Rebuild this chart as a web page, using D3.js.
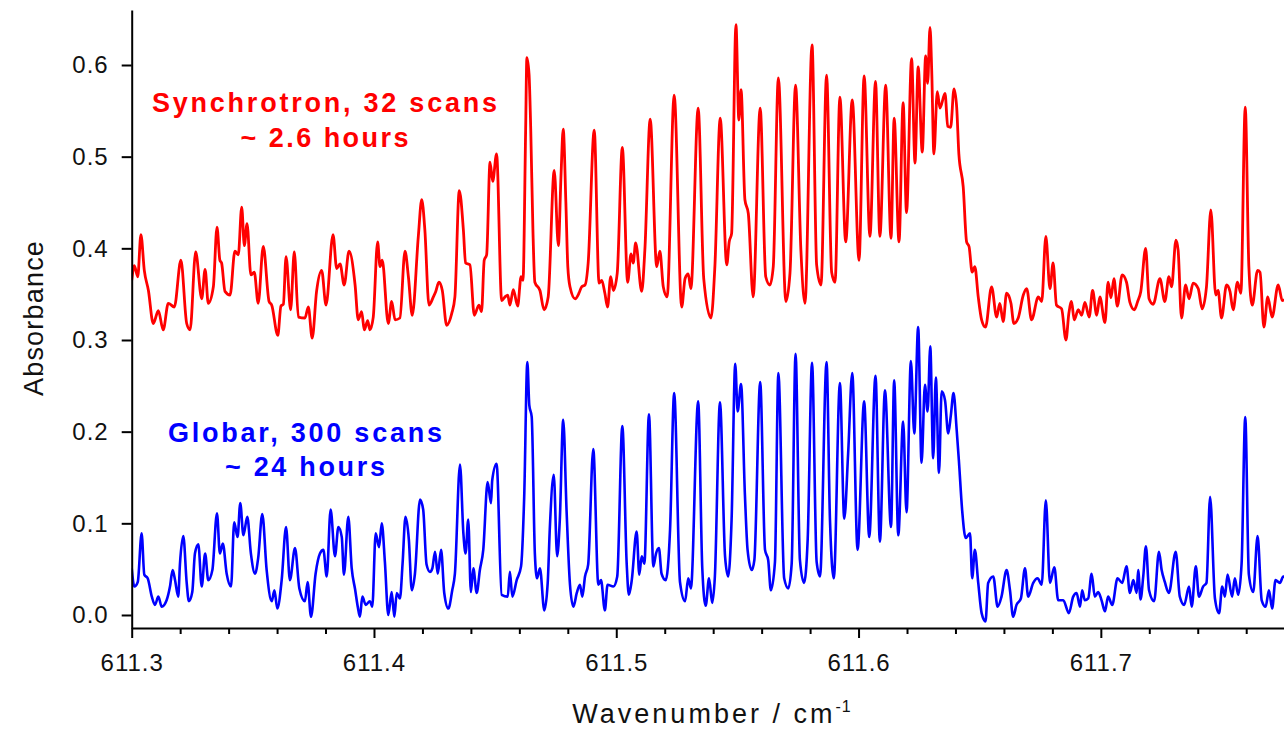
<!DOCTYPE html>
<html>
<head>
<meta charset="utf-8">
<script src="https://cdn.jsdelivr.net/npm/d3@7"></script>
<style>
  body { margin: 0; background: #fff; }
  svg { display: block; font-family: "Liberation Sans", Arial, sans-serif; }
</style>
</head>
<body>
<svg id="chart" width="1284" height="731"></svg>
<script>
// wavenumber (cm-1) and absorbance
var synchWn = [611.3000,611.3011,611.3025,611.3038,611.3052,611.3069,611.3089,611.3110,611.3130,611.3151,611.3176,611.3203,611.3227,611.3241,611.3264,611.3289,611.3303,611.3316,611.3337,611.3352,611.3364,611.3371,611.3385,611.3406,611.3426,611.3440,611.3454,611.3465,611.3476,611.3492,611.3506,611.3522,611.3543,611.3567,611.3578,611.3603,611.3616,611.3626,611.3637,611.3656,611.3671,611.3688,611.3715,611.3729,611.3745,611.3763,611.3784,611.3802,611.3831,611.3846,611.3860,611.3877,611.3897,611.3922,611.3935,611.3949,611.3960,611.3974,611.3983,611.3997,611.4015,611.4025,611.4034,611.4059,611.4073,611.4087,611.4107,611.4128,611.4142,611.4158,611.4183,611.4197,611.4210,611.4227,611.4245,611.4255,611.4268,611.4282,611.4300,611.4321,611.4334,611.4352,611.4369,611.4378,611.4396,611.4414,611.4433,611.4444,611.4455,611.4465,611.4479,611.4490,611.4506,611.4527,611.4541,611.4552,611.4561,611.4575,611.4593,611.4607,611.4615,611.4626,611.4631,611.4640,611.4647,611.4656,611.4664,611.4685,611.4702,611.4719,611.4744,611.4761,611.4772,611.4781,611.4792,611.4800,611.4809,611.4830,611.4846,611.4857,611.4871,611.4884,611.4909,611.4929,611.4940,611.4953,611.4964,611.4977,611.4988,611.5004,611.5025,611.5047,611.5061,611.5070,611.5080,611.5105,611.5118,611.5140,611.5167,611.5180,611.5194,611.5210,611.5239,611.5270,611.5284,611.5297,611.5308,611.5338,611.5361,611.5391,611.5407,611.5429,611.5456,611.5466,611.5476,611.5494,611.5506,611.5515,611.5531,611.5545,611.5565,611.5594,611.5617,611.5634,611.5648,611.5669,611.5700,611.5717,611.5740,611.5762,611.5779,611.5808,611.5827,611.5845,611.5868,611.5889,611.5903,611.5923,611.5947,611.5974,611.6002,611.6023,611.6047,611.6070,611.6088,611.6112,611.6134,611.6147,611.6167,611.6184,611.6198,611.6219,611.6233,611.6246,611.6263,611.6277,611.6285,611.6295,611.6302,611.6311,611.6325,611.6336,611.6357,611.6368,611.6380,611.6394,611.6405,611.6414,611.6432,611.6446,611.6456,611.6469,611.6480,611.6494,611.6508,611.6524,611.6549,611.6570,611.6583,611.6597,611.6611,611.6629,611.6641,611.6659,611.6680,611.6694,611.6714,611.6742,611.6756,611.6773,611.6790,611.6803,611.6817,611.6838,611.6856,611.6868,611.6879,611.6890,611.6907,611.6921,611.6934,611.6952,611.6966,611.6983,611.6996,611.7017,611.7030,611.7042,611.7054,611.7068,611.7088,611.7106,611.7120,611.7138,611.7152,611.7165,611.7185,611.7199,611.7216,611.7244,611.7264,611.7281,611.7292,611.7310,611.7319,611.7333,611.7350,611.7364,611.7381,611.7402,611.7418,611.7436,611.7454,611.7474,611.7484,611.7498,611.7519,611.7533,611.7546,611.7564,611.7578,611.7596,611.7611,611.7625,611.7647,611.7657,611.7673,611.7689,611.7707,611.7732,611.7749,611.7765];
var synchAbs = [0.365,0.381,0.369,0.415,0.376,0.354,0.318,0.332,0.311,0.340,0.336,0.387,0.318,0.311,0.396,0.345,0.377,0.340,0.358,0.423,0.387,0.384,0.353,0.349,0.397,0.393,0.445,0.403,0.427,0.371,0.374,0.340,0.402,0.342,0.338,0.305,0.337,0.339,0.391,0.333,0.396,0.325,0.324,0.336,0.302,0.353,0.376,0.338,0.415,0.378,0.383,0.360,0.397,0.360,0.322,0.331,0.311,0.321,0.311,0.325,0.407,0.380,0.387,0.318,0.342,0.322,0.324,0.397,0.369,0.327,0.413,0.453,0.420,0.338,0.347,0.353,0.363,0.354,0.316,0.329,0.347,0.463,0.420,0.384,0.382,0.327,0.338,0.331,0.387,0.393,0.494,0.473,0.503,0.343,0.347,0.349,0.338,0.355,0.337,0.369,0.365,0.530,0.608,0.590,0.530,0.420,0.363,0.354,0.333,0.347,0.485,0.403,0.480,0.530,0.450,0.380,0.358,0.345,0.351,0.358,0.360,0.384,0.529,0.362,0.365,0.351,0.336,0.369,0.354,0.373,0.510,0.363,0.394,0.384,0.406,0.353,0.398,0.541,0.380,0.397,0.358,0.347,0.567,0.336,0.367,0.372,0.356,0.553,0.367,0.324,0.380,0.542,0.382,0.407,0.416,0.644,0.540,0.573,0.453,0.438,0.347,0.553,0.369,0.360,0.380,0.586,0.342,0.373,0.578,0.398,0.340,0.622,0.382,0.360,0.589,0.374,0.363,0.565,0.407,0.562,0.387,0.588,0.413,0.582,0.413,0.578,0.411,0.542,0.407,0.559,0.439,0.607,0.493,0.598,0.505,0.610,0.580,0.641,0.594,0.503,0.571,0.553,0.569,0.533,0.532,0.574,0.554,0.503,0.467,0.407,0.402,0.374,0.380,0.347,0.322,0.314,0.358,0.325,0.340,0.320,0.351,0.340,0.318,0.324,0.349,0.356,0.322,0.347,0.342,0.413,0.356,0.384,0.338,0.334,0.300,0.329,0.342,0.322,0.333,0.327,0.341,0.325,0.354,0.327,0.347,0.319,0.363,0.346,0.367,0.337,0.371,0.363,0.341,0.333,0.342,0.353,0.400,0.345,0.339,0.367,0.342,0.369,0.358,0.409,0.398,0.324,0.360,0.345,0.362,0.356,0.334,0.358,0.442,0.349,0.354,0.324,0.360,0.353,0.333,0.363,0.351,0.554,0.380,0.338,0.376,0.374,0.314,0.347,0.325,0.360,0.343,0.345];

var globarWn = [611.3000,611.3011,611.3025,611.3041,611.3052,611.3066,611.3083,611.3096,611.3110,611.3124,611.3144,611.3158,611.3169,611.3179,611.3192,611.3199,611.3213,611.3227,611.3236,611.3250,611.3261,611.3275,611.3289,611.3303,611.3316,611.3333,611.3352,611.3364,611.3376,611.3392,611.3410,611.3423,611.3437,611.3448,611.3461,611.3477,611.3492,611.3509,611.3522,611.3539,611.3557,611.3578,611.3589,611.3601,611.3619,611.3637,611.3653,611.3674,611.3692,611.3715,611.3726,611.3740,611.3759,611.3777,611.3791,611.3805,611.3821,611.3839,611.3853,611.3867,611.3876,611.3894,611.3908,611.3922,611.3933,611.3942,611.3952,611.3966,611.3983,611.3993,611.4007,611.4021,611.4032,611.4045,611.4059,611.4073,611.4084,611.4094,611.4107,611.4118,611.4130,611.4144,611.4156,611.4169,611.4190,611.4203,611.4217,611.4231,611.4241,611.4252,611.4263,611.4277,611.4290,611.4307,611.4323,611.4334,611.4355,611.4369,611.4378,611.4389,611.4400,611.4410,611.4424,611.4437,611.4451,611.4469,611.4483,611.4488,611.4506,611.4527,611.4552,611.4561,611.4571,611.4589,611.4607,611.4620,611.4633,611.4641,611.4651,611.4664,611.4673,611.4685,611.4703,611.4717,611.4726,611.4742,611.4756,611.4767,611.4781,611.4795,611.4809,611.4823,611.4837,611.4850,611.4860,611.4871,611.4884,611.4905,611.4926,611.4937,611.4953,611.4964,611.4988,611.5004,611.5025,611.5043,611.5052,611.5064,611.5084,611.5095,611.5105,611.5116,611.5135,611.5153,611.5164,611.5176,611.5187,611.5204,611.5222,611.5239,611.5263,611.5284,611.5297,611.5308,611.5338,611.5355,611.5369,611.5383,611.5396,611.5407,611.5428,611.5449,611.5462,611.5476,611.5491,611.5501,611.5515,611.5531,611.5542,611.5559,611.5570,611.5594,611.5614,611.5627,611.5638,611.5655,611.5669,611.5693,611.5710,611.5724,611.5740,611.5758,611.5775,611.5790,611.5808,611.5827,611.5841,611.5868,611.5882,611.5898,611.5923,611.5941,611.5957,611.5974,611.5996,611.6023,611.6044,611.6070,611.6088,611.6109,611.6134,611.6147,611.6164,611.6184,611.6198,611.6216,611.6230,611.6246,611.6260,611.6274,611.6285,611.6296,611.6308,611.6319,611.6332,611.6343,611.6357,611.6370,611.6381,611.6392,611.6405,611.6414,611.6428,611.6442,611.6460,611.6469,611.6480,611.6494,611.6508,611.6524,611.6535,611.6556,611.6574,611.6590,611.6611,611.6625,611.6638,611.6652,611.6670,611.6687,611.6700,611.6721,611.6739,611.6756,611.6773,611.6790,611.6808,611.6824,611.6845,611.6868,611.6886,611.6900,611.6914,611.6923,611.6934,611.6948,611.6962,611.6975,611.6989,611.7003,611.7017,611.7030,611.7047,611.7069,611.7088,611.7106,611.7120,611.7134,611.7148,611.7154,611.7164,611.7175,611.7186,611.7199,611.7220,611.7240,611.7251,611.7264,611.7281,611.7309,611.7326,611.7344,611.7364,611.7375,611.7392,611.7405,611.7422,611.7436,611.7451,611.7471,611.7488,611.7501,611.7512,611.7523,611.7542,611.7553,611.7567,611.7581,611.7596,611.7611,611.7629,611.7647,611.7664,611.7680,611.7694,611.7707,611.7721,611.7739,611.7753,611.7765];
var globarAbs = [0.051,0.031,0.036,0.089,0.044,0.040,0.020,0.011,0.020,0.009,0.016,0.031,0.049,0.038,0.020,0.055,0.086,0.035,0.015,0.025,0.067,0.077,0.031,0.067,0.038,0.049,0.111,0.067,0.078,0.045,0.031,0.101,0.085,0.122,0.087,0.107,0.067,0.045,0.062,0.110,0.049,0.015,0.027,0.007,0.038,0.096,0.038,0.073,0.029,0.015,0.036,-0.002,0.045,0.067,0.071,0.042,0.115,0.064,0.096,0.085,0.044,0.107,0.051,0.028,0.009,-0.002,0.020,0.011,0.015,0.009,0.089,0.074,0.100,0.058,0.000,0.025,-0.002,0.024,0.018,0.056,0.107,0.082,0.027,0.045,0.126,0.115,0.055,0.047,0.051,0.069,0.045,0.071,0.024,0.007,0.027,0.045,0.164,0.089,0.067,0.104,0.025,0.051,0.024,0.049,0.071,0.145,0.122,0.147,0.165,0.022,0.020,0.047,0.020,0.038,0.053,0.129,0.276,0.229,0.216,0.067,0.040,0.051,0.005,0.035,0.096,0.153,0.064,0.104,0.213,0.113,0.033,0.009,0.024,0.033,0.020,0.042,0.055,0.181,0.033,0.038,0.005,0.033,0.031,0.042,0.206,0.056,0.022,0.038,0.091,0.044,0.064,0.056,0.219,0.053,0.067,0.073,0.045,0.038,0.093,0.242,0.036,0.015,0.040,0.029,0.233,0.051,0.010,0.040,0.013,0.042,0.232,0.064,0.042,0.104,0.274,0.222,0.252,0.131,0.071,0.049,0.060,0.254,0.071,0.060,0.027,0.058,0.264,0.040,0.029,0.056,0.285,0.060,0.035,0.082,0.275,0.058,0.042,0.276,0.104,0.040,0.253,0.105,0.176,0.264,0.071,0.233,0.085,0.261,0.080,0.245,0.096,0.256,0.087,0.211,0.112,0.277,0.198,0.314,0.166,0.251,0.222,0.293,0.171,0.259,0.155,0.244,0.234,0.198,0.218,0.242,0.202,0.169,0.113,0.084,0.089,0.040,0.071,0.035,0.002,-0.007,0.035,0.042,0.009,0.020,0.049,0.027,-0.002,0.011,0.018,0.051,0.020,0.035,0.040,0.033,0.125,0.035,0.052,0.016,0.016,0.002,0.020,0.024,0.009,0.027,0.016,0.018,0.045,0.020,0.025,0.016,0.004,0.020,0.011,0.040,0.035,0.053,0.024,0.038,0.024,0.049,0.017,0.042,0.075,0.027,0.015,0.069,0.049,0.036,0.024,0.069,0.020,0.011,0.031,0.009,0.053,0.020,0.031,0.035,0.129,0.018,0.002,0.031,0.020,0.044,0.020,0.040,0.022,0.056,0.216,0.044,0.025,0.086,0.016,0.009,0.027,0.007,0.038,0.035,0.042,0.040];

var xMajorTicks = [611.3, 611.4, 611.5, 611.6, 611.7];
var xMinorTicks = [611.32, 611.34, 611.36, 611.38, 611.42, 611.44, 611.46, 611.48, 611.52, 611.54, 611.56, 611.58, 611.62, 611.64, 611.66, 611.68, 611.72, 611.74, 611.76];
var yTicks = [0.0, 0.1, 0.2, 0.3, 0.4, 0.5, 0.6];

var margin = { top: 10, right: 0, bottom: 103, left: 131.7 },
    width = 1284 - margin.left - margin.right,
    height = 731 - margin.top - margin.bottom;

var svg = d3.select('#chart');
var g = svg.append('g').attr('transform', 'translate(' + margin.left + ',' + margin.top + ')');

var x = d3.scaleLinear().domain([611.3, 611.7756]).range([0, width]);
var y = d3.scaleLinear().domain([-0.0142, 0.66]).range([height, 0]);

g.append('clipPath').attr('id', 'plot-clip')
    .append('rect').attr('x', 0).attr('y', -10).attr('width', width).attr('height', height + 10);

var line = d3.line().curve(d3.curveMonotoneX).x(d => x(d[0])).y(d => y(d[1]));

g.append('path')
    .datum(d3.zip(globarWn, globarAbs))
    .attr('clip-path', 'url(#plot-clip)')
    .attr('fill', 'none')
    .attr('stroke', '#0000ff')
    .attr('stroke-width', 2.6)
    .attr('stroke-linejoin', 'round')
    .attr('d', line);

g.append('path')
    .datum(d3.zip(synchWn, synchAbs))
    .attr('clip-path', 'url(#plot-clip)')
    .attr('fill', 'none')
    .attr('stroke', '#ff0000')
    .attr('stroke-width', 2.8)
    .attr('stroke-linejoin', 'round')
    .attr('d', line);

// axes
g.append('g')
    .attr('transform', 'translate(0,' + height + ')')
    .call(d3.axisBottom(x).tickValues(xMajorTicks).tickSize(10).tickSizeOuter(0).tickPadding(16).tickFormat(d3.format('.1f')));
g.append('g')
    .attr('transform', 'translate(0,' + height + ')')
    .call(d3.axisBottom(x).tickValues(xMinorTicks).tickSize(6).tickSizeOuter(0).tickFormat(''))
    .select('.domain').remove();

g.append('g')
    .call(d3.axisLeft(y).tickValues(yTicks).tickSize(10).tickSizeOuter(0).tickPadding(13).tickFormat(d3.format('.1f')));

g.selectAll('.domain').attr('stroke', '#000').attr('stroke-width', 2);
g.selectAll('.tick line').attr('stroke', '#000').attr('stroke-width', 2);
g.selectAll('.tick text').attr('fill', '#111')
    .attr('font-size', 24).attr('font-family', '"Liberation Sans", Arial, sans-serif')
    .style('letter-spacing', '1px');

// axis titles
svg.append('text')
    .attr('x', 712).attr('y', 723)
    .attr('text-anchor', 'middle')
    .attr('font-size', 27).style('letter-spacing', '3px').attr('fill', '#111')
    .text('Wavenumber / cm')
    .append('tspan').attr('dy', -11).attr('font-size', 16).style('letter-spacing', '1px').text('-1');

svg.append('text')
    .attr('transform', 'translate(43,318) rotate(-90)')
    .attr('text-anchor', 'middle')
    .attr('font-size', 27).style('letter-spacing', '1.2px').attr('fill', '#111')
    .text('Absorbance');

// series labels
function label(lines, cx, y0, color, widths) {
    lines.forEach(function(t, i) {
        svg.append('text')
            .attr('x', cx).attr('y', y0 + i * 34.5)
            .attr('text-anchor', 'middle')
            .attr('textLength', widths[i]).attr('lengthAdjust', 'spacing')
            .attr('font-size', 27).attr('font-weight', 'bold')
            .attr('fill', color)
            .text(t);
    });
}
label(['Synchrotron, 32 scans', '~ 2.6 hours'], 324.5, 112, '#ff0000', [345, 168]);
label(['Globar, 300 scans', '~ 24 hours'], 305, 441.7, '#0000ff', [274, 160]);
</script>
</body>
</html>
